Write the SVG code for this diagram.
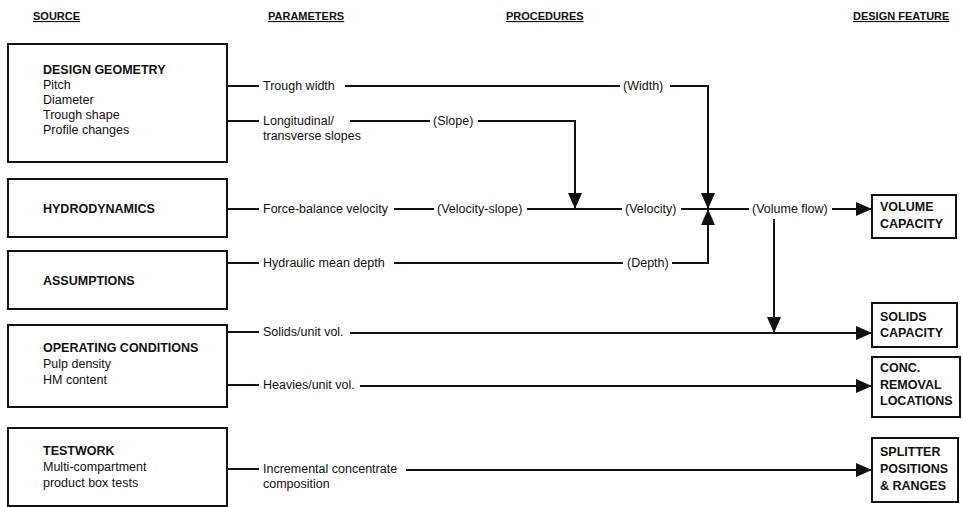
<svg xmlns="http://www.w3.org/2000/svg" width="963" height="507" viewBox="0 0 963 507">
<style>
  text { font-family: "Liberation Sans", Arial, sans-serif; fill: #111; }
  .hd { font-size: 11px; font-weight: bold; text-decoration: underline; }
  .t { font-size: 12.5px; font-weight: bold; }
  .r { font-size: 12.5px; }
  .box { fill: #fff; stroke: #111; stroke-width: 2; }
  .ln { fill: none; stroke: #111; stroke-width: 2; }
</style>
<defs>
  <marker id="ah" markerUnits="userSpaceOnUse" markerWidth="16" markerHeight="14" refX="16" refY="7" orient="auto">
    <path d="M0,0 L16,7 L0,14 z" fill="#111"/>
  </marker>
</defs>
<rect width="963" height="507" fill="#fff"/>

<g id="headers">
  <text class="hd" x="33" y="20">SOURCE</text>
  <text class="hd" x="268" y="20">PARAMETERS</text>
  <text class="hd" x="506" y="20">PROCEDURES</text>
  <text class="hd" x="853" y="20">DESIGN FEATURE</text>
</g>

<g id="design-geometry">
  <rect class="box" x="8" y="44" width="219" height="118"/>
  <text class="t" x="43" y="74">DESIGN GEOMETRY</text>
  <text class="r" x="43" y="89">Pitch</text>
  <text class="r" x="43" y="104">Diameter</text>
  <text class="r" x="43" y="119">Trough shape</text>
  <text class="r" x="43" y="134">Profile changes</text>
</g>
<g id="hydrodynamics">
  <rect class="box" x="8" y="179" width="219" height="58"/>
  <text class="t" x="43" y="213">HYDRODYNAMICS</text>
</g>
<g id="assumptions">
  <rect class="box" x="8" y="251" width="219" height="58"/>
  <text class="t" x="43" y="285">ASSUMPTIONS</text>
</g>
<g id="operating-conditions">
  <rect class="box" x="8" y="325" width="219" height="82"/>
  <text class="t" x="43" y="352">OPERATING CONDITIONS</text>
  <text class="r" x="43" y="368">Pulp density</text>
  <text class="r" x="43" y="384">HM content</text>
</g>
<g id="testwork">
  <rect class="box" x="8" y="428" width="219" height="78"/>
  <text class="t" x="43" y="455">TESTWORK</text>
  <text class="r" x="43" y="471">Multi-compartment</text>
  <text class="r" x="43" y="487">product box tests</text>
</g>

<g id="params">
  <text class="r" x="263" y="90">Trough width</text>
  <text class="r" x="263" y="125">Longitudinal/</text>
  <text class="r" x="263" y="140">transverse slopes</text>
  <text class="r" x="263" y="213">Force-balance velocity</text>
  <text class="r" x="263" y="267">Hydraulic mean depth</text>
  <text class="r" x="263" y="336">Solids/unit vol.</text>
  <text class="r" x="263" y="389">Heavies/unit vol.</text>
  <text class="r" x="263" y="473">Incremental concentrate</text>
  <text class="r" x="263" y="488">composition</text>
</g>
<g id="procedures">
  <text class="r" x="623" y="90">(Width)</text>
  <text class="r" x="433" y="125">(Slope)</text>
  <text class="r" x="437" y="213">(Velocity-slope)</text>
  <text class="r" x="625" y="213">(Velocity)</text>
  <text class="r" x="627" y="267">(Depth)</text>
  <text class="r" x="752" y="213">(Volume flow)</text>
</g>

<g id="volume-capacity">
  <rect class="box" x="872" y="195" width="84" height="43"/>
  <text class="t" x="880" y="211">VOLUME</text>
  <text class="t" x="880" y="228">CAPACITY</text>
</g>
<g id="solids-capacity">
  <rect class="box" x="872" y="303" width="85" height="44"/>
  <text class="t" x="880" y="321">SOLIDS</text>
  <text class="t" x="880" y="337">CAPACITY</text>
</g>
<g id="conc-removal">
  <rect class="box" x="872" y="357" width="88" height="60"/>
  <text class="t" x="880" y="372">CONC.</text>
  <text class="t" x="880" y="389">REMOVAL</text>
  <text class="t" x="880" y="405">LOCATIONS</text>
</g>
<g id="splitter">
  <rect class="box" x="872" y="438" width="86" height="64"/>
  <text class="t" x="880" y="456">SPLITTER</text>
  <text class="t" x="880" y="473">POSITIONS</text>
  <text class="t" x="880" y="490">&amp; RANGES</text>
</g>

<g id="connectors">
  <path class="ln" d="M227,86 H259 M345,86 H620"/>
  <path class="ln" d="M670,86 H708 V209" marker-end="url(#ah)"/>
  <path class="ln" d="M227,121 H259 M350,121 H430"/>
  <path class="ln" d="M478,121 H575 V209" marker-end="url(#ah)"/>
  <path class="ln" d="M227,209 H259 M394,209 H434 M527,209 H622 M681,209 H749"/>
  <path class="ln" d="M832,209 H872" marker-end="url(#ah)"/>
  <path class="ln" d="M227,263 H259 M394,263 H623"/>
  <path class="ln" d="M672,263 H708 V209" marker-end="url(#ah)"/>
  <path class="ln" d="M774,219 V333" marker-end="url(#ah)"/>
  <path class="ln" d="M227,332 H259"/>
  <path class="ln" d="M350,333 H872" marker-end="url(#ah)"/>
  <path class="ln" d="M227,385 H259"/>
  <path class="ln" d="M360,386 H872" marker-end="url(#ah)"/>
  <path class="ln" d="M227,469 H259"/>
  <path class="ln" d="M406,470 H872" marker-end="url(#ah)"/>
</g>
</svg>
